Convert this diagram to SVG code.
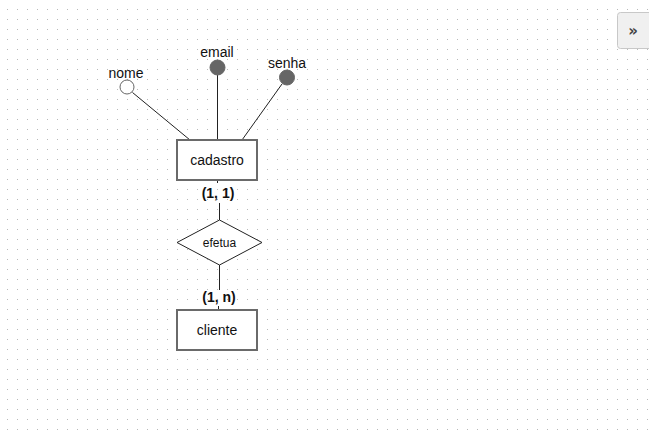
<svg xmlns="http://www.w3.org/2000/svg" width="649" height="434" viewBox="0 0 649 434">
<defs>
<pattern id="grid" x="0" y="0" width="10" height="10" patternUnits="userSpaceOnUse">
<rect x="7" y="9" width="1" height="1" fill="#b8b8b8"/>
</pattern>
<style>
.ent{fill:#fff;stroke:#6a6a6a;stroke-width:2}
.rel{fill:#fff;stroke:#222;stroke-width:1}
.ln{stroke:#222;stroke-width:1;fill:none}
.lbl{font-family:"Liberation Sans",Arial,sans-serif;font-size:14px;fill:#111;text-anchor:middle}
.att{font-family:"Liberation Sans",Arial,sans-serif;font-size:14px;fill:#111;text-anchor:middle}
.card{font-family:"Liberation Sans",Arial,sans-serif;font-size:14px;font-weight:bold;fill:#111;text-anchor:middle}
.fk{fill:#666;stroke:#666;stroke-width:1}
.ok{fill:#fff;stroke:#666;stroke-width:1}
</style>
</defs>
<rect width="649" height="434" fill="#fff"/>
<rect width="649" height="434" fill="url(#grid)"/>

<g id="connectors">
<line class="ln" x1="132.5" y1="92.5" x2="190" y2="140"/>
<line class="ln" x1="217.5" y1="75" x2="217.5" y2="140"/>
<line class="ln" x1="282" y1="84" x2="242" y2="140"/>
<line class="ln" x1="217.5" y1="180" x2="217.5" y2="183"/>
<line class="ln" x1="219.5" y1="203" x2="219.5" y2="220"/>
<line class="ln" x1="219.5" y1="265" x2="219.5" y2="290"/>
<line class="ln" x1="218.5" y1="306" x2="218.5" y2="310"/>
<text class="card" x="218" y="198">(1, 1)</text>
<text class="card" x="219" y="302">(1, n)</text>
</g>

<g id="attr-nome">
<circle class="ok" cx="127" cy="87" r="7"/>
<text class="att" x="126" y="78">nome</text>
</g>
<g id="attr-email">
<circle class="fk" cx="217.5" cy="67.5" r="7.5"/>
<text class="att" x="217" y="57">email</text>
</g>
<g id="attr-senha">
<circle class="fk" cx="287" cy="77.5" r="7.5"/>
<text class="att" x="287" y="68">senha</text>
</g>

<g id="cadastro">
<rect class="ent" x="177" y="140" width="80" height="40"/>
<text class="lbl" x="217" y="165">cadastro</text>
</g>

<g id="efetua">
<polygon class="rel" points="219.5,220 262,242.5 219.5,265 177,242.5"/>
<text class="att" x="219.5" y="247" style="font-size:12px">efetua</text>
</g>

<g id="cliente">
<rect class="ent" x="177" y="310" width="80" height="40"/>
<text class="lbl" x="217" y="335">cliente</text>
</g>

<g id="toggle">
<rect x="617.5" y="12.5" width="40" height="36" rx="3" fill="#f0f0f0" stroke="#c8c8c8"/>
<text x="633" y="36" style="font-family:'DejaVu Sans',sans-serif;font-size:15px;font-weight:bold;fill:#444;text-anchor:middle">»</text>
</g>
</svg>
